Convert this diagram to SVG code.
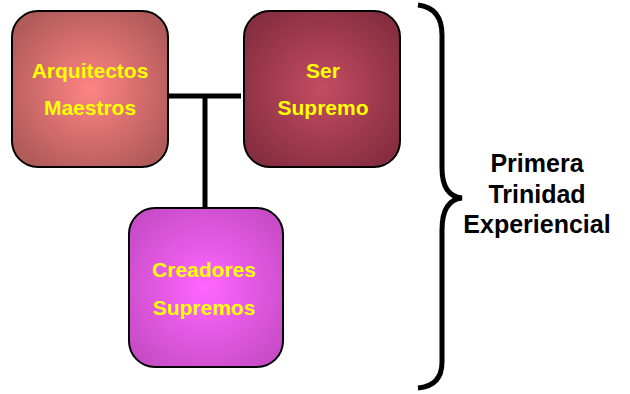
<svg xmlns="http://www.w3.org/2000/svg" width="630" height="394" viewBox="0 0 630 394">
<style>
.box{stroke:#000;stroke-width:2}
.lbl{font-family:"Liberation Sans",Arial,sans-serif;font-weight:bold;font-size:21px;fill:#FFFF00;text-anchor:middle}
.side{font-family:"Liberation Sans",Arial,sans-serif;font-weight:bold;font-size:25px;fill:#000;text-anchor:middle}
.ln{stroke:#000;stroke-width:5;fill:none}
</style>
<defs>
<radialGradient id="g1" cx="50%" cy="50%" r="60%"><stop offset="0" stop-color="#FF8484"/><stop offset="1" stop-color="#B05A5A"/></radialGradient>
<radialGradient id="g2" cx="50%" cy="50%" r="60%"><stop offset="0" stop-color="#C44C62"/><stop offset="1" stop-color="#862E40"/></radialGradient>
<radialGradient id="g3" cx="50%" cy="50%" r="60%"><stop offset="0" stop-color="#FF66FF"/><stop offset="1" stop-color="#C84CC8"/></radialGradient>
</defs>
<g id="connectors">
<line class="ln" x1="168" y1="96" x2="241" y2="96"/>
<line class="ln" x1="205" y1="96" x2="205" y2="208"/>
<path class="ln" d="M418,5 Q442,8 442,35 L442,168 Q442,196 462,198 Q442,200 442,230 L442,362 Q442,386 418,388"/>
</g>
<g id="arquitectos">
<rect class="box" x="12" y="11" width="156" height="156" rx="26" fill="url(#g1)"/>
<text class="lbl" x="90" y="78">Arquitectos</text>
<text class="lbl" x="90" y="115">Maestros</text>
</g>
<g id="ser">
<rect class="box" x="244" y="11" width="156" height="156" rx="26" fill="url(#g2)"/>
<text class="lbl" x="323" y="78">Ser</text>
<text class="lbl" x="323" y="115">Supremo</text>
</g>
<g id="creadores">
<rect class="box" x="129" y="208" width="154" height="159" rx="26" fill="url(#g3)"/>
<text class="lbl" x="204" y="277">Creadores</text>
<text class="lbl" x="204" y="315">Supremos</text>
</g>
<g id="label">
<text class="side" x="537" y="172">Primera</text>
<text class="side" x="537" y="203">Trinidad</text>
<text class="side" x="537" y="233">Experiencial</text>
</g>
</svg>
